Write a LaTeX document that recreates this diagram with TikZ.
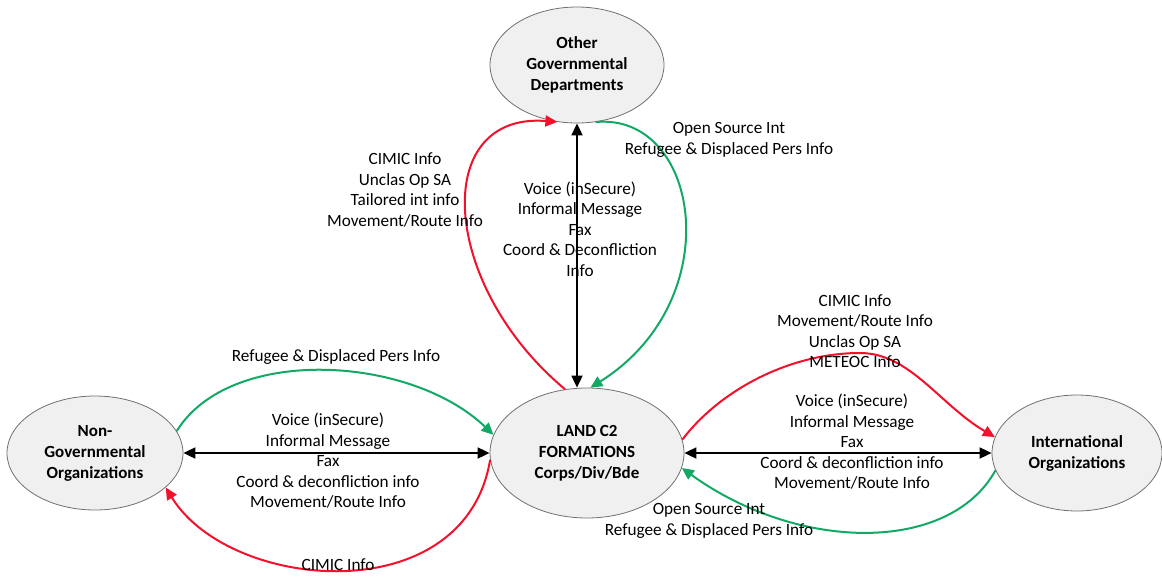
\documentclass[tikz,border=0pt]{standalone}
\usepackage{fontspec}
\setmainfont{Carlito}
\usetikzlibrary{arrows.meta,shapes.geometric}
\definecolor{boxfill}{HTML}{F0F0F0}
\definecolor{boxline}{HTML}{707070}
\definecolor{flowred}{HTML}{F2102A}
\definecolor{flowgreen}{HTML}{12A866}
\begin{document}
\begin{tikzpicture}[x=1pt,y=-1pt,
  party/.style={ellipse, draw=boxline, line width=0.8pt, fill=boxfill,
    inner sep=0pt, align=center, font=\fontsize{17}{21}\selectfont\bfseries},
  lbl/.style={align=center, inner sep=0pt, font=\fontsize{17.2}{20.5}\selectfont},
  tip/.style={-{Triangle[length=12pt,width=11pt]}},
  both/.style={{Triangle[length=12pt,width=11pt]}-{Triangle[length=12pt,width=11pt]}},
  blackflow/.style={both, line width=1.8pt, black},
  redflow/.style={tip, line width=2pt, flowred},
  greenflow/.style={tip, line width=2pt, flowgreen}
]
\useasboundingbox (0,0) rectangle (1162,576);

% the four parties
\node[party, minimum width=174pt, minimum height=116pt] (ogd) at (577,65)
  {Other\\Governmental\\Departments};
\node[party, minimum width=194pt, minimum height=130pt] (land) at (587,453)
  {LAND C2\\FORMATIONS\\Corps/Div/Bde};
\node[party, minimum width=176pt, minimum height=114pt] (ngo) at (95,453)
  {Non-\\Governmental\\Organizations};
\node[party, minimum width=170pt, minimum height=116pt] (io) at (1077,453)
  {International\\Organizations};

% LAND <-> other governmental departments
\draw[blackflow] (ogd.south) -- (ogd.south |- land.north);
\draw[redflow] (land.109) .. controls (440,285) and (430,112) .. (ogd.251);
\draw[greenflow] (ogd.288) .. controls (700,112) and (730,300) .. (land.87);

% LAND <-> non-governmental organizations
\draw[blackflow] (ngo.east) -- (land.west);
\draw[greenflow] (ngo.15) .. controls (230,345) and (410,355) .. (land.169);
\draw[redflow] (land.184) .. controls (465,612) and (230,592) .. (ngo.334);

% LAND <-> international organizations
\draw[blackflow] (land.east) -- (io.west);
\draw[redflow] (land.8) .. controls (720,390) and (790,353) .. (860,353)
  .. controls (910,353) and (940,405) .. (io.169);
\draw[greenflow] (io.192) .. controls (950,553) and (800,553) .. (land.351);

% flow labels
\node[lbl] (l1) at (405,190) {CIMIC Info\\Unclas Op SA\\Tailored int info\\Movement/Route Info};
\node[lbl] (l2) at (729,140) {Open Source Int\\Refugee \& Displaced Pers Info};
\node[lbl] (l3) at (580,229) {Voice (inSecure)\\Informal Message\\Fax\\Coord \& Deconfliction\\Info};
\node[lbl] (l4) at (855,331) {CIMIC Info\\Movement/Route Info\\Unclas Op SA\\METEOC Info};
\node[lbl] (l5) at (852,442) {Voice (inSecure)\\Informal Message\\Fax\\Coord \& deconfliction info\\Movement/Route Info};
\node[lbl] (l6) at (709,521) {Open Source Int\\Refugee \& Displaced Pers Info};
\node[lbl] (l7) at (336,357) {Refugee \& Displaced Pers Info};
\node[lbl] (l8) at (328,461) {Voice (inSecure)\\Informal Message\\Fax\\Coord \& deconfliction info\\Movement/Route Info};
\node[lbl] (l9) at (338,565) {CIMIC Info};
\end{tikzpicture}
\end{document}
